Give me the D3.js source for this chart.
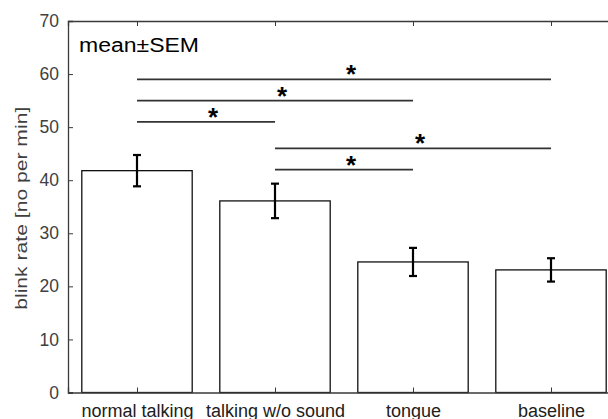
<!DOCTYPE html>
<html>
<head>
<meta charset="utf-8">
<script src="https://cdn.jsdelivr.net/npm/d3@7"></script>
<style>
  body { margin: 0; background: #fff; }
  svg { display: block; }
  text { font-family: "Liberation Sans", Arial, Helvetica, sans-serif; }
</style>
</head>
<body>
<script>
// chart data
const categories = ['normal talking', 'talking w/o sound', 'tongue', 'baseline']
const means = [41.8, 36.1, 24.6, 23.1]
const sems = [2.95, 3.25, 2.65, 2.2]
const yTicks = [0, 10, 20, 30, 40, 50, 60, 70]

// significance brackets (bar index 1-based)
const sigFrom = [1, 1, 1, 2, 2]
const sigTo = [4, 3, 2, 4, 3]
const sigLevel = [59, 55, 51, 46, 42]

const W = 608, H = 419
const AXIS = '#3a3a3a'

const svg = d3.select('body').append('svg')
  .attr('width', W)
  .attr('height', H)

svg.append('rect').attr('width', W).attr('height', H).attr('fill', '#fff')

// x runs 0.5 .. 4.5 like the original, right edge falls outside the picture
const x = d3.scaleLinear().domain([0.5, 4.5]).range([68, 620])
const y = d3.scaleLinear().domain([0, 70]).range([392.5, 21])
const barW = 0.8

const bars = categories.map((c, i) => ({ name: c, pos: i + 1, mean: means[i], sem: sems[i] }))

// bars
svg.append('g').selectAll('rect')
  .data(bars)
  .join('rect')
    .attr('x', d => x(d.pos - barW / 2))
    .attr('y', d => y(d.mean))
    .attr('width', d => x(d.pos + barW / 2) - x(d.pos - barW / 2))
    .attr('height', d => y(0) - y(d.mean))
    .attr('fill', '#fff')
    .attr('stroke', '#111')
    .attr('stroke-width', 1.3)

// error bars
const eb = svg.append('g').attr('stroke', '#000').attr('stroke-width', 2.2)
eb.selectAll('.stem').data(bars).join('line')
  .attr('x1', d => x(d.pos)).attr('x2', d => x(d.pos))
  .attr('y1', d => y(d.mean - d.sem)).attr('y2', d => y(d.mean + d.sem))
eb.selectAll('.capT').data(bars).join('line')
  .attr('x1', d => x(d.pos) - 4).attr('x2', d => x(d.pos) + 4)
  .attr('y1', d => y(d.mean + d.sem)).attr('y2', d => y(d.mean + d.sem))
eb.selectAll('.capB').data(bars).join('line')
  .attr('x1', d => x(d.pos) - 4).attr('x2', d => x(d.pos) + 4)
  .attr('y1', d => y(d.mean - d.sem)).attr('y2', d => y(d.mean - d.sem))

// left axis, ticks pointing inward
svg.append('g')
  .attr('transform', `translate(${x(0.5)},0)`)
  .call(d3.axisLeft(y).tickValues(yTicks).tickSize(-5).tickPadding(9))
  .call(g => g.select('.domain').attr('stroke', AXIS).attr('stroke-width', 1.3))
  .call(g => g.selectAll('.tick line').attr('stroke', AXIS))
  .call(g => g.selectAll('.tick text')
    .attr('fill', '#404040')
    .style('font-size', '17.5px')
    .style('font-family', '"Liberation Sans", Arial, sans-serif'))

// bottom axis
svg.append('g')
  .attr('transform', `translate(0,${y(0)})`)
  .call(d3.axisBottom(x).tickValues([1, 2, 3, 4]).tickSize(-5).tickPadding(10)
    .tickFormat(d => categories[d - 1]))
  .call(g => g.select('.domain').attr('stroke', AXIS).attr('stroke-width', 1.3))
  .call(g => g.selectAll('.tick line').attr('stroke', AXIS))
  .call(g => g.selectAll('.tick text')
    .attr('fill', '#202020')
    .attr('y', 24)
    .attr('dy', 0)
    .style('font-size', '18px')
    .style('font-family', '"Liberation Sans", Arial, sans-serif'))

// top frame with ticks
svg.append('g')
  .attr('transform', `translate(0,${y(70)})`)
  .call(d3.axisTop(x).tickValues([1, 2, 3, 4]).tickSize(-5).tickFormat(''))
  .call(g => g.select('.domain').attr('stroke', AXIS).attr('stroke-width', 1.3))
  .call(g => g.selectAll('.tick line').attr('stroke', AXIS))

// significance lines and stars
const sig = sigFrom.map((f, i) => ({ from: f, to: sigTo[i], level: sigLevel[i] }))
svg.append('g').selectAll('line')
  .data(sig)
  .join('line')
    .attr('x1', d => x(d.from))
    .attr('x2', d => x(d.to))
    .attr('y1', d => y(d.level))
    .attr('y2', d => y(d.level))
    .attr('stroke', '#333')
    .attr('stroke-width', 1.6)

svg.append('g').selectAll('text')
  .data(sig)
  .join('text')
    .attr('x', d => x((d.from + d.to) / 2) + 2)
    .attr('y', d => y(d.level) + 4)
    .attr('font-size', 26)
    .attr('font-weight', 'bold')
    .attr('fill', '#000')
    .text('*')

// annotation
svg.append('text')
  .attr('x', 79)
  .attr('y', 52.3)
  .attr('font-size', 19.5)
  .attr('textLength', 120)
  .attr('lengthAdjust', 'spacingAndGlyphs')
  .attr('fill', '#000')
  .text('mean±SEM')

// y label
svg.append('text')
  .attr('transform', `translate(27,${(y(0) + y(70)) / 2 + 1.5}) rotate(-90)`)
  .attr('text-anchor', 'middle')
  .attr('font-size', 17)
  .attr('textLength', 203)
  .attr('lengthAdjust', 'spacingAndGlyphs')
  .attr('fill', '#404040')
  .text('blink rate [no per min]')
</script>
</body>
</html>
